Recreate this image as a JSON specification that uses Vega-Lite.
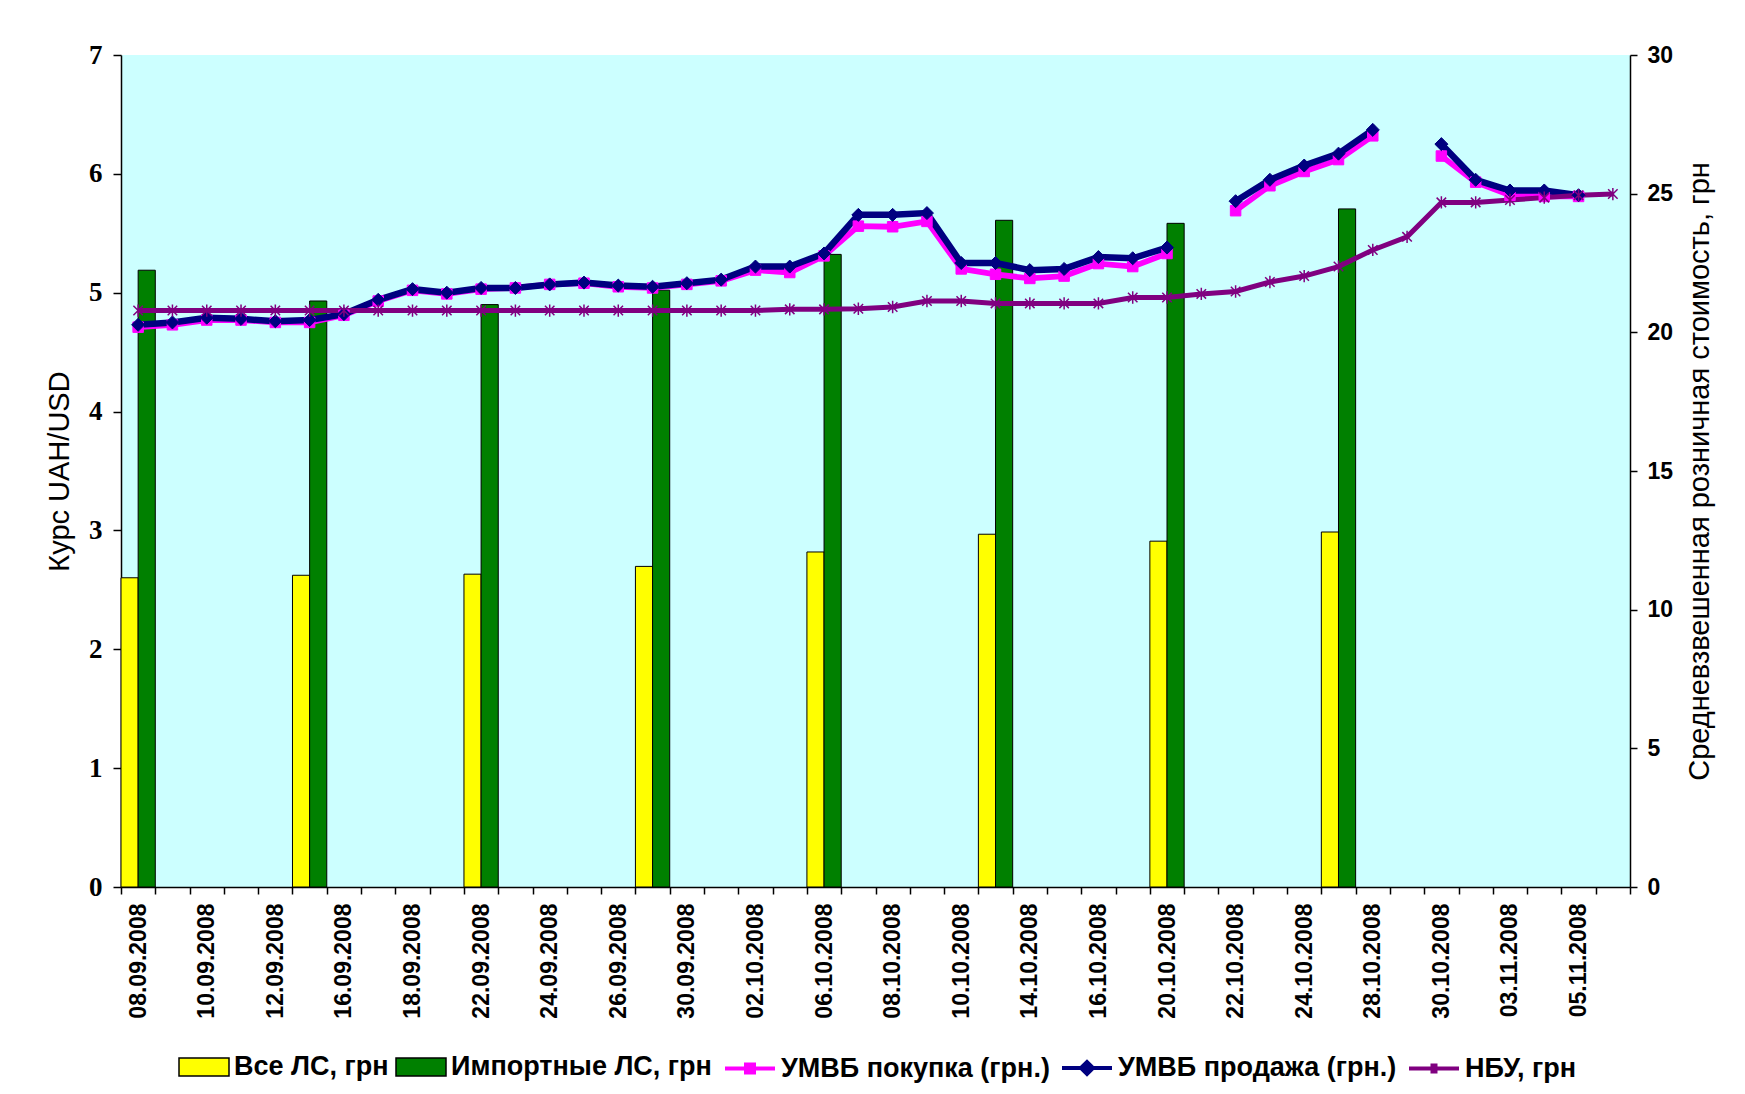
{
  "$schema": "https://vega.github.io/schema/vega-lite/v6.json",
  "width": 1509,
  "height": 832,
  "autosize": {"type": "none"},
  "padding": {"left": 121, "top": 55, "right": 115, "bottom": 207},
  "background": "white",
  "config": {
    "view": {"fill": "#CCFFFF", "stroke": null},
    "axis": {"domainColor": "black", "tickColor": "black", "labelColor": "black", "titleColor": "black", "grid": false, "domainWidth": 1.5, "tickWidth": 1.5, "tickSize": 7},
    "legend": {"labelFont": "Liberation Sans", "labelFontSize": 27, "labelFontWeight": "bold", "labelColor": "black", "labelLimit": 0, "labelOffset": 4, "columnPadding": 4, "symbolSize": 2500, "symbolOpacity": 1}
  },
  "datasets": {
    "bars": [
      {"d": "08.09.2008", "s": "Все ЛС, грн", "v": 11.15},
      {"d": "15.09.2008", "s": "Все ЛС, грн", "v": 11.24},
      {"d": "22.09.2008", "s": "Все ЛС, грн", "v": 11.28},
      {"d": "29.09.2008", "s": "Все ЛС, грн", "v": 11.56},
      {"d": "06.10.2008", "s": "Все ЛС, грн", "v": 12.08},
      {"d": "13.10.2008", "s": "Все ЛС, грн", "v": 12.72},
      {"d": "20.10.2008", "s": "Все ЛС, грн", "v": 12.47},
      {"d": "27.10.2008", "s": "Все ЛС, грн", "v": 12.8},
      {"d": "08.09.2008", "s": "Импортные ЛС, грн", "v": 22.24},
      {"d": "15.09.2008", "s": "Импортные ЛС, грн", "v": 21.13},
      {"d": "22.09.2008", "s": "Импортные ЛС, грн", "v": 21.0},
      {"d": "29.09.2008", "s": "Импортные ЛС, грн", "v": 21.52},
      {"d": "06.10.2008", "s": "Импортные ЛС, грн", "v": 22.81},
      {"d": "13.10.2008", "s": "Импортные ЛС, грн", "v": 24.04},
      {"d": "20.10.2008", "s": "Импортные ЛС, грн", "v": 23.93},
      {"d": "27.10.2008", "s": "Импортные ЛС, грн", "v": 24.45}
    ],
    "rates": [
      {"d": "08.09.2008", "s": "УМВБ покупка (грн.)", "v": 4.71},
      {"d": "09.09.2008", "s": "УМВБ покупка (грн.)", "v": 4.73},
      {"d": "10.09.2008", "s": "УМВБ покупка (грн.)", "v": 4.77},
      {"d": "11.09.2008", "s": "УМВБ покупка (грн.)", "v": 4.77},
      {"d": "12.09.2008", "s": "УМВБ покупка (грн.)", "v": 4.75},
      {"d": "15.09.2008", "s": "УМВБ покупка (грн.)", "v": 4.75},
      {"d": "16.09.2008", "s": "УМВБ покупка (грн.)", "v": 4.81},
      {"d": "17.09.2008", "s": "УМВБ покупка (грн.)", "v": 4.93},
      {"d": "18.09.2008", "s": "УМВБ покупка (грн.)", "v": 5.02},
      {"d": "19.09.2008", "s": "УМВБ покупка (грн.)", "v": 4.99},
      {"d": "22.09.2008", "s": "УМВБ покупка (грн.)", "v": 5.03},
      {"d": "23.09.2008", "s": "УМВБ покупка (грн.)", "v": 5.04},
      {"d": "24.09.2008", "s": "УМВБ покупка (грн.)", "v": 5.07},
      {"d": "25.09.2008", "s": "УМВБ покупка (грн.)", "v": 5.08},
      {"d": "26.09.2008", "s": "УМВБ покупка (грн.)", "v": 5.05},
      {"d": "29.09.2008", "s": "УМВБ покупка (грн.)", "v": 5.04},
      {"d": "30.09.2008", "s": "УМВБ покупка (грн.)", "v": 5.07},
      {"d": "01.10.2008", "s": "УМВБ покупка (грн.)", "v": 5.1},
      {"d": "02.10.2008", "s": "УМВБ покупка (грн.)", "v": 5.19},
      {"d": "03.10.2008", "s": "УМВБ покупка (грн.)", "v": 5.17},
      {"d": "06.10.2008", "s": "УМВБ покупка (грн.)", "v": 5.31},
      {"d": "07.10.2008", "s": "УМВБ покупка (грн.)", "v": 5.56},
      {"d": "08.10.2008", "s": "УМВБ покупка (грн.)", "v": 5.555},
      {"d": "09.10.2008", "s": "УМВБ покупка (грн.)", "v": 5.6},
      {"d": "10.10.2008", "s": "УМВБ покупка (грн.)", "v": 5.2},
      {"d": "13.10.2008", "s": "УМВБ покупка (грн.)", "v": 5.155},
      {"d": "14.10.2008", "s": "УМВБ покупка (грн.)", "v": 5.12},
      {"d": "15.10.2008", "s": "УМВБ покупка (грн.)", "v": 5.14},
      {"d": "16.10.2008", "s": "УМВБ покупка (грн.)", "v": 5.245},
      {"d": "17.10.2008", "s": "УМВБ покупка (грн.)", "v": 5.22},
      {"d": "20.10.2008", "s": "УМВБ покупка (грн.)", "v": 5.33},
      {"d": "21.10.2008", "s": "УМВБ покупка (грн.)", "v": null},
      {"d": "22.10.2008", "s": "УМВБ покупка (грн.)", "v": 5.69},
      {"d": "23.10.2008", "s": "УМВБ покупка (грн.)", "v": 5.9},
      {"d": "24.10.2008", "s": "УМВБ покупка (грн.)", "v": 6.02},
      {"d": "27.10.2008", "s": "УМВБ покупка (грн.)", "v": 6.12},
      {"d": "28.10.2008", "s": "УМВБ покупка (грн.)", "v": 6.32},
      {"d": "29.10.2008", "s": "УМВБ покупка (грн.)", "v": null},
      {"d": "30.10.2008", "s": "УМВБ покупка (грн.)", "v": 6.15},
      {"d": "31.10.2008", "s": "УМВБ покупка (грн.)", "v": 5.93},
      {"d": "03.11.2008", "s": "УМВБ покупка (грн.)", "v": 5.82},
      {"d": "04.11.2008", "s": "УМВБ покупка (грн.)", "v": 5.81},
      {"d": "05.11.2008", "s": "УМВБ покупка (грн.)", "v": 5.81},
      {"d": "08.09.2008", "s": "УМВБ продажа (грн.)", "v": 4.73},
      {"d": "09.09.2008", "s": "УМВБ продажа (грн.)", "v": 4.75},
      {"d": "10.09.2008", "s": "УМВБ продажа (грн.)", "v": 4.79},
      {"d": "11.09.2008", "s": "УМВБ продажа (грн.)", "v": 4.78},
      {"d": "12.09.2008", "s": "УМВБ продажа (грн.)", "v": 4.76},
      {"d": "15.09.2008", "s": "УМВБ продажа (грн.)", "v": 4.77},
      {"d": "16.09.2008", "s": "УМВБ продажа (грн.)", "v": 4.82},
      {"d": "17.09.2008", "s": "УМВБ продажа (грн.)", "v": 4.94},
      {"d": "18.09.2008", "s": "УМВБ продажа (грн.)", "v": 5.03},
      {"d": "19.09.2008", "s": "УМВБ продажа (грн.)", "v": 5.0},
      {"d": "22.09.2008", "s": "УМВБ продажа (грн.)", "v": 5.04},
      {"d": "23.09.2008", "s": "УМВБ продажа (грн.)", "v": 5.04},
      {"d": "24.09.2008", "s": "УМВБ продажа (грн.)", "v": 5.07},
      {"d": "25.09.2008", "s": "УМВБ продажа (грн.)", "v": 5.085},
      {"d": "26.09.2008", "s": "УМВБ продажа (грн.)", "v": 5.06},
      {"d": "29.09.2008", "s": "УМВБ продажа (грн.)", "v": 5.05},
      {"d": "30.09.2008", "s": "УМВБ продажа (грн.)", "v": 5.08},
      {"d": "01.10.2008", "s": "УМВБ продажа (грн.)", "v": 5.11},
      {"d": "02.10.2008", "s": "УМВБ продажа (грн.)", "v": 5.22},
      {"d": "03.10.2008", "s": "УМВБ продажа (грн.)", "v": 5.22},
      {"d": "06.10.2008", "s": "УМВБ продажа (грн.)", "v": 5.33},
      {"d": "07.10.2008", "s": "УМВБ продажа (грн.)", "v": 5.655},
      {"d": "08.10.2008", "s": "УМВБ продажа (грн.)", "v": 5.655},
      {"d": "09.10.2008", "s": "УМВБ продажа (грн.)", "v": 5.67},
      {"d": "10.10.2008", "s": "УМВБ продажа (грн.)", "v": 5.25},
      {"d": "13.10.2008", "s": "УМВБ продажа (грн.)", "v": 5.25},
      {"d": "14.10.2008", "s": "УМВБ продажа (грн.)", "v": 5.19},
      {"d": "15.10.2008", "s": "УМВБ продажа (грн.)", "v": 5.2},
      {"d": "16.10.2008", "s": "УМВБ продажа (грн.)", "v": 5.3},
      {"d": "17.10.2008", "s": "УМВБ продажа (грн.)", "v": 5.29},
      {"d": "20.10.2008", "s": "УМВБ продажа (грн.)", "v": 5.38},
      {"d": "21.10.2008", "s": "УМВБ продажа (грн.)", "v": null},
      {"d": "22.10.2008", "s": "УМВБ продажа (грн.)", "v": 5.77},
      {"d": "23.10.2008", "s": "УМВБ продажа (грн.)", "v": 5.95},
      {"d": "24.10.2008", "s": "УМВБ продажа (грн.)", "v": 6.07},
      {"d": "27.10.2008", "s": "УМВБ продажа (грн.)", "v": 6.17},
      {"d": "28.10.2008", "s": "УМВБ продажа (грн.)", "v": 6.37},
      {"d": "29.10.2008", "s": "УМВБ продажа (грн.)", "v": null},
      {"d": "30.10.2008", "s": "УМВБ продажа (грн.)", "v": 6.25},
      {"d": "31.10.2008", "s": "УМВБ продажа (грн.)", "v": 5.95},
      {"d": "03.11.2008", "s": "УМВБ продажа (грн.)", "v": 5.86},
      {"d": "04.11.2008", "s": "УМВБ продажа (грн.)", "v": 5.86},
      {"d": "05.11.2008", "s": "УМВБ продажа (грн.)", "v": 5.82},
      {"d": "08.09.2008", "s": "НБУ, грн", "v": 4.85},
      {"d": "09.09.2008", "s": "НБУ, грн", "v": 4.85},
      {"d": "10.09.2008", "s": "НБУ, грн", "v": 4.85},
      {"d": "11.09.2008", "s": "НБУ, грн", "v": 4.85},
      {"d": "12.09.2008", "s": "НБУ, грн", "v": 4.85},
      {"d": "15.09.2008", "s": "НБУ, грн", "v": 4.85},
      {"d": "16.09.2008", "s": "НБУ, грн", "v": 4.85},
      {"d": "17.09.2008", "s": "НБУ, грн", "v": 4.85},
      {"d": "18.09.2008", "s": "НБУ, грн", "v": 4.85},
      {"d": "19.09.2008", "s": "НБУ, грн", "v": 4.85},
      {"d": "22.09.2008", "s": "НБУ, грн", "v": 4.85},
      {"d": "23.09.2008", "s": "НБУ, грн", "v": 4.85},
      {"d": "24.09.2008", "s": "НБУ, грн", "v": 4.85},
      {"d": "25.09.2008", "s": "НБУ, грн", "v": 4.85},
      {"d": "26.09.2008", "s": "НБУ, грн", "v": 4.85},
      {"d": "29.09.2008", "s": "НБУ, грн", "v": 4.85},
      {"d": "30.09.2008", "s": "НБУ, грн", "v": 4.85},
      {"d": "01.10.2008", "s": "НБУ, грн", "v": 4.85},
      {"d": "02.10.2008", "s": "НБУ, грн", "v": 4.85},
      {"d": "03.10.2008", "s": "НБУ, грн", "v": 4.86},
      {"d": "06.10.2008", "s": "НБУ, грн", "v": 4.86},
      {"d": "07.10.2008", "s": "НБУ, грн", "v": 4.865},
      {"d": "08.10.2008", "s": "НБУ, грн", "v": 4.88},
      {"d": "09.10.2008", "s": "НБУ, грн", "v": 4.93},
      {"d": "10.10.2008", "s": "НБУ, грн", "v": 4.93},
      {"d": "13.10.2008", "s": "НБУ, грн", "v": 4.91},
      {"d": "14.10.2008", "s": "НБУ, грн", "v": 4.91},
      {"d": "15.10.2008", "s": "НБУ, грн", "v": 4.91},
      {"d": "16.10.2008", "s": "НБУ, грн", "v": 4.91},
      {"d": "17.10.2008", "s": "НБУ, грн", "v": 4.96},
      {"d": "20.10.2008", "s": "НБУ, грн", "v": 4.96},
      {"d": "21.10.2008", "s": "НБУ, грн", "v": 4.99},
      {"d": "22.10.2008", "s": "НБУ, грн", "v": 5.01},
      {"d": "23.10.2008", "s": "НБУ, грн", "v": 5.09},
      {"d": "24.10.2008", "s": "НБУ, грн", "v": 5.14},
      {"d": "27.10.2008", "s": "НБУ, грн", "v": 5.22},
      {"d": "28.10.2008", "s": "НБУ, грн", "v": 5.36},
      {"d": "29.10.2008", "s": "НБУ, грн", "v": 5.47},
      {"d": "30.10.2008", "s": "НБУ, грн", "v": 5.76},
      {"d": "31.10.2008", "s": "НБУ, грн", "v": 5.76},
      {"d": "03.11.2008", "s": "НБУ, грн", "v": 5.78},
      {"d": "04.11.2008", "s": "НБУ, грн", "v": 5.8},
      {"d": "05.11.2008", "s": "НБУ, грн", "v": 5.82},
      {"d": "06.11.2008", "s": "НБУ, грн", "v": 5.83}
    ]
  },
  "encoding": {
    "x": {
      "field": "d",
      "type": "ordinal",
      "sort": null,
      "title": null,
      "scale": {
        "domain": ["08.09.2008","09.09.2008","10.09.2008","11.09.2008","12.09.2008","15.09.2008","16.09.2008","17.09.2008","18.09.2008","19.09.2008","22.09.2008","23.09.2008","24.09.2008","25.09.2008","26.09.2008","29.09.2008","30.09.2008","01.10.2008","02.10.2008","03.10.2008","06.10.2008","07.10.2008","08.10.2008","09.10.2008","10.10.2008","13.10.2008","14.10.2008","15.10.2008","16.10.2008","17.10.2008","20.10.2008","21.10.2008","22.10.2008","23.10.2008","24.10.2008","27.10.2008","28.10.2008","29.10.2008","30.10.2008","31.10.2008","03.11.2008","04.11.2008","05.11.2008","06.11.2008"],
        "paddingInner": 0,
        "paddingOuter": 0
      },
      "axis": {
        "title": null,
        "labelAngle": -90,
        "tickBand": "extent",
        "labelExpr": "indexof(domain('x'), datum.value) % 2 == 0 ? datum.value : ''",
        "labelFont": "Liberation Sans",
        "labelFontSize": 23,
        "labelFontWeight": "bold",
        "labelPadding": 9,
        "labelOverlap": false,
        "tickSize": 7
      }
    }
  },
  "layer": [
    {
      "data": {"name": "bars"},
      "mark": {"type": "bar", "stroke": "black", "strokeWidth": 1},
      "encoding": {
        "xOffset": {"field": "s", "type": "nominal", "scale": {"domain": ["Все ЛС, грн", "Импортные ЛС, грн"], "paddingInner": 0, "paddingOuter": 0}},
        "y": {
          "field": "v",
          "type": "quantitative",
          "stack": null,
          "scale": {"domain": [0, 30], "nice": false},
          "axis": {
            "orient": "right",
            "values": [0, 5, 10, 15, 20, 25, 30],
            "format": "d",
            "title": "Средневзвешенная розничная стоимость, грн",
            "titleFont": "Liberation Sans",
            "titleFontSize": 29,
            "titleFontWeight": "normal",
            "titleAngle": 270,
            "titleBaseline": "top",
            "titlePadding": 13,
            "labelFont": "Liberation Sans",
            "labelFontSize": 23,
            "labelFontWeight": "bold",
            "labelPadding": 10,
            "tickSize": 7
          }
        },
        "color": {
          "field": "s",
          "type": "nominal",
          "scale": {"domain": ["Все ЛС, грн", "Импортные ЛС, грн"], "range": ["#FFFF00", "#008000"]},
          "legend": {
            "orient": "none",
            "legendX": 57,
            "legendY": 986,
            "direction": "horizontal",
            "columns": 2,
            "title": null,
            "symbolType": "M-1,-0.36H1V0.36H-1Z",
            "symbolStrokeColor": "black",
            "symbolStrokeWidth": 1.5,
            "symbolSize": 2500
          }
        }
      }
    },
    {
      "data": {"name": "rates"},
      "layer": [
        {
          "mark": {"type": "point", "filled": true, "opacity": 0},
          "encoding": {
            "y": {
              "field": "v",
              "type": "quantitative",
              "scale": {"domain": [0, 7], "nice": false},
              "axis": {
                "orient": "left",
                "values": [0, 1, 2, 3, 4, 5, 6, 7],
                "format": "d",
                "title": "Курс UAH/USD",
                "titleFont": "Liberation Sans",
                "titleFontSize": 29,
                "titleFontWeight": "normal",
                "titlePadding": 14,
                "labelFont": "Liberation Serif",
                "labelFontSize": 27,
                "labelFontWeight": "bold",
                "labelPadding": 11,
                "tickSize": 8
              }
            },
            "shape": {
              "field": "s",
              "type": "nominal",
              "scale": {"domain": ["УМВБ покупка (грн.)", "УМВБ продажа (грн.)", "НБУ, грн"], "range": ["M-1,0H1M-0.16,-0.16H0.16V0.16H-0.16Z", "M-1,0H1M-0.24,0L0,-0.24L0.24,0L0,0.24Z", "M-1,0H1M-0.06,-0.2V0.2M0,-0.2V0.2M0.06,-0.2V0.2"]},
              "legend": {"orient": "none", "legendX": 602, "legendY": 986, "direction": "horizontal", "columns": 3, "title": null, "symbolSize": 2500, "symbolStrokeWidth": 4, "symbolOpacity": 1}
            },
            "fill": {
              "field": "s",
              "type": "nominal",
              "scale": {"domain": ["УМВБ покупка (грн.)", "УМВБ продажа (грн.)", "НБУ, грн"], "range": ["#FF00FF", "#000080", "#800080"]},
              "legend": {"orient": "none", "legendX": 602, "legendY": 986, "direction": "horizontal", "columns": 3, "title": null, "symbolSize": 2500, "symbolStrokeWidth": 4, "symbolOpacity": 1}
            },
            "stroke": {
              "field": "s",
              "type": "nominal",
              "scale": {"domain": ["УМВБ покупка (грн.)", "УМВБ продажа (грн.)", "НБУ, грн"], "range": ["#FF00FF", "#000080", "#800080"]},
              "legend": {"orient": "none", "legendX": 602, "legendY": 986, "direction": "horizontal", "columns": 3, "title": null, "symbolSize": 2500, "symbolStrokeWidth": 4, "symbolOpacity": 1}
            }
          }
        },
        {
          "mark": {"type": "line", "invalid": "break-paths-filter-domains"},
          "encoding": {
            "y": {"field": "v", "type": "quantitative"},
            "stroke": {
              "field": "s",
              "type": "nominal",
              "scale": {"domain": ["УМВБ покупка (грн.)", "УМВБ продажа (грн.)", "НБУ, грн"], "range": ["#FF00FF", "#000080", "#800080"]},
              "legend": {"orient": "none", "legendX": 602, "legendY": 986, "direction": "horizontal", "columns": 3, "title": null, "symbolSize": 2500, "symbolStrokeWidth": 4, "symbolOpacity": 1}
            },
            "strokeWidth": {
              "field": "s",
              "type": "nominal",
              "scale": {"domain": ["НБУ, грн", "УМВБ покупка (грн.)", "УМВБ продажа (грн.)"], "range": [5, 6.5, 5]},
              "legend": null
            }
          }
        },
        {
          "transform": [{"filter": "datum.s == 'УМВБ покупка (грн.)'"}],
          "mark": {"type": "point", "shape": "square", "filled": true, "opacity": 1, "size": 110, "fill": "#FF00FF", "stroke": "#FF00FF", "strokeWidth": 1},
          "encoding": {"y": {"field": "v", "type": "quantitative"}}
        },
        {
          "transform": [{"filter": "datum.s == 'УМВБ продажа (грн.)'"}],
          "mark": {"type": "point", "shape": "diamond", "filled": true, "opacity": 1, "size": 170, "fill": "#000080", "stroke": "#000080", "strokeWidth": 1},
          "encoding": {"y": {"field": "v", "type": "quantitative"}}
        },
        {
          "transform": [{"filter": "datum.s == 'НБУ, грн'"}],
          "mark": {"type": "point", "shape": "M-1,-1L1,1M-1,1L1,-1M0,-1.3L0,1.3", "filled": false, "opacity": 1, "size": 90, "stroke": "#800080", "strokeWidth": 1.5},
          "encoding": {"y": {"field": "v", "type": "quantitative"}}
        }
      ]
    }
  ],
  "resolve": {"scale": {"y": "independent"}}
}
